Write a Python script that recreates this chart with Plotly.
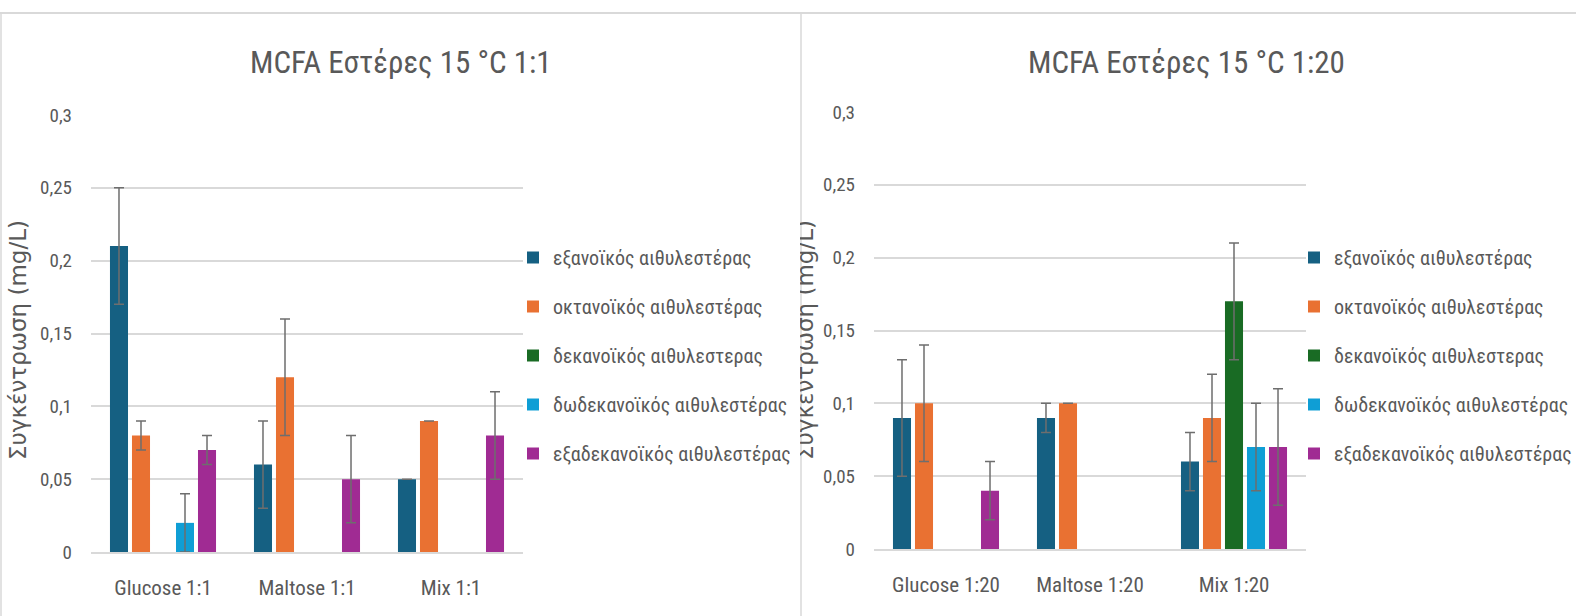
import plotly.graph_objects as go

# ---------------- data ----------------
series = [
    "εξανοϊκός αιθυλεστέρας",
    "οκτανοϊκός αιθυλεστέρας",
    "δεκανοϊκός αιθυλεστερας",
    "δωδεκανοϊκός αιθυλεστέρας",
    "εξαδεκανοϊκός αιθυλεστέρας",
]
colors = ["#156082", "#E97132", "#196B24", "#0F9ED5", "#A02B93"]

cats_11 = ["Glucose 1:1", "Maltose 1:1", "Mix 1:1"]
vals_11 = [
    [0.21, 0.06, 0.05],
    [0.08, 0.12, 0.09],
    [None, None, None],
    [0.02, None, None],
    [0.07, 0.05, 0.08],
]
err_11 = [
    [0.04, 0.03, 0.0],
    [0.01, 0.04, 0.0],
    [None, None, None],
    [0.02, None, None],
    [0.01, 0.03, 0.03],
]

cats_120 = ["Glucose 1:20", "Maltose 1:20", "Mix 1:20"]
vals_120 = [
    [0.09, 0.09, 0.06],
    [0.10, 0.10, 0.09],
    [None, None, 0.17],
    [None, None, 0.07],
    [0.04, None, 0.07],
]
err_120 = [
    [0.04, 0.01, 0.02],
    [0.04, 0.0, 0.03],
    [None, None, 0.04],
    [None, None, 0.03],
    [0.02, None, 0.04],
]

title_11 = "MCFA Εστέρες 15 °C 1:1"
title_120 = "MCFA Εστέρες 15 °C 1:20"
y_title = "Συγκέντρωση (mg/L)"
y_tickvals = [0, 0.05, 0.1, 0.15, 0.2, 0.25, 0.3]
y_ticktext = ["0", "0,05", "0,1", "0,15", "0,2", "0,25", "0,3"]

# ---------------- figure ----------------
W, H = 1576, 616
NARROW = "Liberation Sans Narrow, Arial Narrow, Roboto Condensed, Liberation Sans, sans-serif"
REG = "DejaVu Sans, Noto Sans, Liberation Sans, sans-serif"
TXT = "#595959"
GRID = "#D9D9D9"
ERR = "#6E6E6E"

fig = go.Figure()

for i, name in enumerate(series):
    fig.add_trace(go.Bar(
        x=cats_11, y=vals_11[i], name=name, marker_color=colors[i],
        marker_line_width=0,
        error_y=dict(type="data", array=err_11[i], color=ERR, thickness=1.5, width=5),
        xaxis="x", yaxis="y", legend="legend", legendgroup="L%d" % i,
    ))
for i, name in enumerate(series):
    fig.add_trace(go.Bar(
        x=cats_120, y=vals_120[i], name=name, marker_color=colors[i],
        marker_line_width=0,
        error_y=dict(type="data", array=err_120[i], color=ERR, thickness=1.5, width=5),
        xaxis="x2", yaxis="y2", legend="legend2", legendgroup="R%d" % i,
    ))

def px_x(p):
    return p / W

def px_y(p):
    return 1 - p / H

xax_common = dict(
    showgrid=False, zeroline=False, showline=True, linecolor=GRID, linewidth=1.5,
    ticks="", ticklabelstandoff=16, automargin=False,
    tickfont=dict(family=NARROW, size=21, color=TXT), fixedrange=True,
)
yax_common = dict(
    range=[0, 0.3], tickvals=y_tickvals, ticktext=y_ticktext,
    showgrid=True, gridcolor=GRID, gridwidth=1.5, zeroline=False, showline=False,
    ticks="", ticklabelstandoff=18, automargin=False,
    tickfont=dict(family=NARROW, size=19, color=TXT), fixedrange=True,
)

fig.update_layout(
    width=W, height=H,
    margin=dict(l=0, r=0, t=0, b=0, autoexpand=False),
    paper_bgcolor="white", plot_bgcolor="white",
    barmode="group", bargap=0.236, bargroupgap=0.18,
    xaxis=dict(domain=[px_x(91), px_x(523)], anchor="y", **xax_common),
    yaxis=dict(domain=[px_y(552), px_y(115)], anchor="x", **yax_common),
    xaxis2=dict(domain=[px_x(874), px_x(1306)], anchor="y2", **xax_common),
    yaxis2=dict(domain=[px_y(549), px_y(112)], anchor="x2", **yax_common),
    legend=dict(
        x=px_x(513), y=px_y(238), xanchor="left", yanchor="top",
        font=dict(family=NARROW, size=20, color=TXT), tracegroupgap=20,
        bgcolor="rgba(0,0,0,0)",
    ),
    legend2=dict(
        x=px_x(1294), y=px_y(238), xanchor="left", yanchor="top",
        font=dict(family=NARROW, size=20, color=TXT), tracegroupgap=20,
        bgcolor="rgba(0,0,0,0)",
    ),
    showlegend=True,
)

# chart frames
fig.add_shape(type="line", xref="paper", yref="paper", x0=0, x1=1, y0=px_y(13), y1=px_y(13),
              line=dict(color=GRID, width=2))
fig.add_shape(type="line", xref="paper", yref="paper", x0=px_x(1), x1=px_x(1), y0=0, y1=px_y(13),
              line=dict(color=GRID, width=1.5))
fig.add_shape(type="line", xref="paper", yref="paper", x0=px_x(801), x1=px_x(801), y0=0, y1=px_y(13),
              line=dict(color=GRID, width=1.5))

# titles
fig.add_annotation(text=title_11, xref="paper", yref="paper", x=px_x(401), y=px_y(62),
                   xanchor="center", yanchor="middle",
                   showarrow=False, font=dict(family=NARROW, size=31, color=TXT))
fig.add_annotation(text=title_120, xref="paper", yref="paper", x=px_x(1186), y=px_y(62),
                   xanchor="center", yanchor="middle",
                   showarrow=False, font=dict(family=NARROW, size=31, color=TXT))

# y-axis titles
fig.add_annotation(text=y_title, xref="paper", yref="paper", x=px_x(18), y=px_y(340),
                   xanchor="center", yanchor="middle",
                   textangle=-90, showarrow=False, font=dict(family=REG, size=23, color=TXT))
fig.add_annotation(text=y_title, xref="paper", yref="paper", x=px_x(805), y=px_y(340),
                   xanchor="center", yanchor="middle",
                   textangle=-90, showarrow=False, font=dict(family=REG, size=23, color=TXT))
# the right chart clips its axis title at its left border
fig.add_annotation(text=" ", xref="paper", yref="paper", x=px_x(800.2), y=px_y(340),
                   xanchor="right", yanchor="middle", width=10, height=280, bgcolor="white",
                   borderpad=0, borderwidth=0, showarrow=False)

fig.write_html("out.html", config={"displayModeBar": False},
               post_script="document.body.style.margin='0';")
